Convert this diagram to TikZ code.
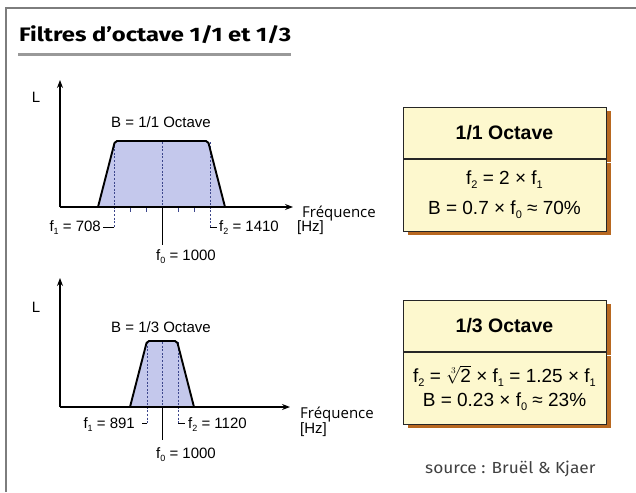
\documentclass[tikz,border=0pt]{standalone}
\usepackage{fontspec}
\setmainfont{Liberation Sans}
\newfontfamily\headfont[FakeStretch=1.22]{Fira Sans}
\newfontfamily\srcfont[FakeStretch=1.08]{Fira Sans}
\newfontfamily\freqfont{Open Sans}
\usetikzlibrary{arrows.meta,positioning,shadows}

\definecolor{bandblue}{RGB}{196,200,236}
\definecolor{dashblue}{RGB}{60,70,140}
\definecolor{boxyellow}{RGB}{253,248,206}
\definecolor{shadowbrown}{RGB}{184,104,32}
\definecolor{framegray}{RGB}{125,125,125}

\newcommand\lbl{\fontsize{15}{18}\selectfont}
\newcommand\lo[1]{\raisebox{-0.4ex}{\fontsize{9}{10}\selectfont #1}}
\newcommand\blo[1]{\raisebox{-0.4ex}{\fontsize{11}{12}\selectfont #1}}

\tikzset{
  axis/.style={-{Stealth[length=8pt,width=6pt]},line width=1.1pt},
  band/.style={fill=bandblue},
  bandedge/.style={draw=black,line width=1.9pt,rounded corners=2pt,line join=round},
  fline/.style={draw=dashblue,line width=1pt,dash pattern=on 2pt off 1.6pt},
  hook/.style={draw=black,line width=0.8pt},
  tick/.style={draw=dashblue,line width=0.9pt},
  txt/.style={font=\lbl,inner sep=0pt},
  freq/.style={font=\freqfont\fontsize{15}{18}\selectfont,inner sep=0pt},
  boxhead/.style={draw=black!85,line width=1pt,fill=boxyellow,minimum width=203pt,
    minimum height=51pt,inner sep=0pt,font=\bfseries\fontsize{19.5}{22}\selectfont,
    drop shadow={shadow xshift=5pt,shadow yshift=-4pt,fill=shadowbrown,opacity=1}},
  boxbody/.style={boxhead,minimum height=72pt,font=\fontsize{19}{21}\selectfont,align=center},
  frame/.style={draw=framegray,line width=1.5pt},
  rule/.style={draw=black!40,line width=3pt}
}

\begin{document}
\begin{tikzpicture}[x=1pt,y=-1pt]
  \useasboundingbox (0,0) rectangle (636,492);
  % frame and heading
  \draw[frame] (6,492) -- (6,8) -- (636,8);
  \node[anchor=base west,inner sep=0pt,font=\headfont\bfseries\fontsize{19.5}{22}\selectfont]
    (title) at (19,42) {Filtres d’octave 1/1 et 1/3};
  \draw[rule] ([xshift=-1pt,yshift=-13pt]title.base west) -- ([yshift=-13pt]title.base east);

  % 1/1 octave graph
  \coordinate (o1) at (60,207);
  \coordinate (ytop1) at (60,80);
  \coordinate (xend1) at (293,207);
  \path[band] (98,207) -- (115,141) -- (208,141) -- (225,207) -- cycle;
  \coordinate (f1a) at (114,142);
  \coordinate (f1b) at (114,227);
  \coordinate (f1c) at (103,227);
  \coordinate (f0a) at (162,142);
  \coordinate (f0b) at (162,207);
  \coordinate (f0c) at (162,245);
  \coordinate (f2a) at (210,142);
  \coordinate (f2b) at (210,227);
  \coordinate (f2c) at (217,227);
  \draw[fline] (f1a) -- (f1b);
  \draw[fline] (f0a) -- (f0b);
  \draw[fline] (f2a) -- (f2b);
  \draw[hook] (f1b) -- (f1c);
  \draw[hook] (f0b) -- (f0c);
  \draw[hook] (f2b) -- (f2c);
  \foreach \x in {130,146,178,194}
    \draw[tick] (\x,208) -- (\x,212);
  \draw[bandedge] (98,207) -- (115,141) -- (208,141) -- (225,207);
  \draw[axis] (o1) -- (ytop1);
  \draw[axis] (o1) -- (xend1);
  \node[txt] (L1) at (36,97) {L};
  \node[txt,anchor=base] (bw1) at (161,127) {B = 1/1 Octave};
  \node[txt,anchor=base east] (f1lbl) at (101,231) {f\lo{1} = 708};
  \node[txt,anchor=base west] (f0lbl) at (156,260) {f\lo{0} = 1000};
  \node[txt,anchor=base west] (f2lbl) at (219,231) {f\lo{2} = 1410};
  \node[txt,anchor=base west] (hz1) at (297,231) {[Hz]};
  \node[freq,anchor=base west] (fr1) at (302,217) {Fréquence};

  % 1/3 octave graph
  \coordinate (o2) at (60,407);
  \coordinate (ytop2) at (60,278);
  \coordinate (xend2) at (290,407);
  \path[band] (130,407) -- (147,341) -- (177,341) -- (194,407) -- cycle;
  \coordinate (g1a) at (147,342);
  \coordinate (g1b) at (147,423);
  \coordinate (g1c) at (142,423);
  \coordinate (g0a) at (162,342);
  \coordinate (g0b) at (162,407);
  \coordinate (g0c) at (162,440);
  \coordinate (g2a) at (178,342);
  \coordinate (g2b) at (178,423);
  \coordinate (g2c) at (185,423);
  \draw[fline] (g1a) -- (g1b);
  \draw[fline] (g0a) -- (g0b);
  \draw[fline] (g2a) -- (g2b);
  \draw[hook] (g1b) -- (g1c);
  \draw[hook] (g0b) -- (g0c);
  \draw[hook] (g2b) -- (g2c);
  \draw[bandedge] (130,407) -- (147,341) -- (177,341) -- (194,407);
  \draw[axis] (o2) -- (ytop2);
  \draw[axis] (o2) -- (xend2);
  \node[txt] (L2) at (36,307) {L};
  \node[txt,anchor=base] (bw2) at (161,332) {B = 1/3 Octave};
  \node[txt,anchor=base east] (g1lbl) at (135,428) {f\lo{1} = 891};
  \node[txt,anchor=base west] (g0lbl) at (156,458) {f\lo{0} = 1000};
  \node[txt,anchor=base west] (g2lbl) at (188,428) {f\lo{2} = 1120};
  \node[txt,anchor=base west] (hz2) at (300,433) {[Hz]};
  \node[freq,anchor=base west] (fr2) at (300,418) {Fréquence};

  % info boxes
  \node[boxhead] (head1) at (504.5,132.5) {1/1 Octave};
  \node[boxbody,below=0pt of head1] (body1)
    {f\blo{2} = 2 × f\blo{1}\\[9pt] B = 0.7 × f\blo{0} ≈ 70\%};
  \node[boxhead] (head2) at (504.5,325.5) {1/3 Octave};
  \node[boxbody,below=0pt of head2] (body2)
    {f\blo{2} = $\sqrt[3]{\mbox{2}}$ × f\blo{1} = 1.25 × f\blo{1}\\[3pt] B = 0.23 × f\blo{0} ≈ 23\%};

  \node[anchor=base west,inner sep=0pt,text=black!75,font=\srcfont\fontsize{16}{18}\selectfont]
    (src) at (425,473) {source : Bruël \& Kjaer};
\end{tikzpicture}
\end{document}
